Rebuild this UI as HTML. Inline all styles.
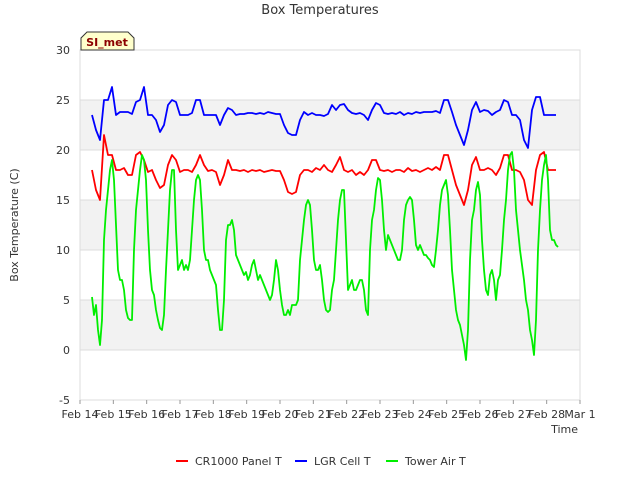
<!DOCTYPE html>
<html><head><meta charset="utf-8"><style>
body{margin:0;background:#fff;font-family:"Liberation Sans","DejaVu Sans",sans-serif}
svg text{font-family:"DejaVu Sans","Liberation Sans",sans-serif}
</style></head><body>
<svg id="chart" width="640" height="480" xmlns="http://www.w3.org/2000/svg"></svg>
<script>
const xTickLabels=["Feb 14","Feb 15","Feb 16","Feb 17","Feb 18","Feb 19","Feb 20","Feb 21","Feb 22","Feb 23","Feb 24","Feb 25","Feb 26","Feb 27","Feb 28","Mar 1"];
const yTicks=[-5,0,5,10,15,20,25,30];
const seriesNames=["CR1000 Panel T","LGR Cell T","Tower Air T"];
const seriesColors=["#ff0000","#0000ff","#00ee00"];
// sample start (days after Feb 14) and spacing for each series
const tStart=0.36, tStepCoarse=0.12, tStepFine=0.06;
const panelT=[18,16,15,21.5,19.5,19.5,18,18,18.2,17.5,17.5,19.5,19.8,19,17.8,18,17,16.2,16.5,18.5,19.5,19,17.8,18,18,17.8,18.5,19.5,18.5,17.9,18,17.8,16.5,17.5,19,18,18,17.9,18,17.8,18,17.9,18,17.8,17.9,18,17.9,17.9,17,15.8,15.6,15.8,17.5,18,18,17.8,18.2,18,18.5,18,17.8,18.5,19.3,18,17.8,18,17.5,17.8,17.5,18,19,19,18,17.9,18,17.8,18,18,17.8,18.2,17.9,18,17.8,18,18.2,18,18.3,18,19.5,19.5,18,16.5,15.5,14.5,16,18.5,19.3,18,18,18.2,18,17.5,18.2,19.5,19.5,18,18,17.8,17,15,14.5,18,19.5,19.8,18,18,18];
const cellT=[23.5,22,21,25,25,26.3,23.5,23.8,23.8,23.8,23.6,24.8,25,26.3,23.5,23.5,23,21.8,22.5,24.5,25,24.8,23.5,23.5,23.5,23.7,25,25,23.5,23.5,23.5,23.5,22.5,23.5,24.2,24,23.5,23.6,23.6,23.7,23.7,23.6,23.7,23.6,23.8,23.7,23.6,23.6,22.5,21.7,21.5,21.5,23,23.8,23.5,23.7,23.5,23.5,23.4,23.6,24.5,24,24.5,24.6,24,23.7,23.6,23.7,23.5,23,24,24.7,24.5,23.7,23.6,23.7,23.6,23.8,23.5,23.7,23.6,23.8,23.7,23.8,23.8,23.8,23.9,23.7,25,25,23.8,22.5,21.5,20.5,22,24,24.8,23.8,24,23.9,23.5,23.8,24,25,24.8,23.5,23.5,23,21,20.2,24,25.3,25.3,23.5,23.5,23.5,23.5];
const airT=[5.3,3.5,4.5,2,0.5,3,11,14,16,18,19,17,12.5,8,7,7,6,4,3.2,3,3,10,14,16,18,19.5,19,17,12,8,6,5.5,4,3,2.2,2,3.5,8,12,16,18,18,12,8,8.5,9,8,8.5,8,9,12,15,17,17.5,17,14,10,9,9,8,7.5,7,6.5,4,2,2,5,11,12.5,12.5,13,12,9.5,9,8.5,8,7.5,7.8,7,7.5,8.5,9,8,7,7.5,7,6.5,6,5.5,5,5.5,7,9,8,6,4.5,3.5,3.5,4,3.5,4.5,4.5,4.5,5,9,11,13,14.5,15,14.5,12,9,8,8,8.5,7,5,4,3.8,4,6,7,10,13,15,16,16,11,6,6.5,7,6,6,6.5,7,7,6,4,3.5,10,13,14,16,17.2,17,15,12,10,11.5,11,10.5,10,9.5,9,9,10,13,14.5,15,15.3,15,13,10.5,10,10.5,10,9.5,9.5,9.2,9,8.5,8.3,10,12,14.5,16,16.5,17,15.5,12,8,6,4,3,2.5,1.5,0.5,-1,2,9,13,14,16,16.8,15.5,11,8,6,5.5,7.5,8,7,5,7,7.5,10,13,15,18,19.5,19.8,18,14,12,10,8.5,7,5,4,2,1,-0.5,3,10,14,17,18.5,19.5,17,12,11,11,10.5,10.3];

const NS="http://www.w3.org/2000/svg";
const svg=document.getElementById('chart');
const L=80,R=580,T=50,B=400;
const xs=d=>L+d*(R-L)/15;
const ys=v=>B-(v+5)*(B-T)/35;
function mk(tag,attrs,parent){const e=document.createElementNS(NS,tag);for(const k in attrs)e.setAttribute(k,attrs[k]);(parent||svg).appendChild(e);return e;}

// background bands
for(let i=0;i<yTicks.length-1;i++){
  const v0=yTicks[i],v1=yTicks[i+1];
  const band=mk('rect',{x:L,y:ys(v1),width:R-L,height:ys(v0)-ys(v1),fill:(i%2===1)?'#f2f2f2':'#ffffff'});
  
  
}
yTicks.forEach(v=>{
  const g=mk('line',{x1:L,x2:R,y1:ys(v),y2:ys(v),stroke:'#dcdcdc','stroke-width':1});
  
  
  const t=mk('text',{x:L-10,y:ys(v)+4,'text-anchor':'end','font-size':11,fill:'#333'});
  t.textContent=v;
  
  
});
const frame=mk('rect',{x:L,y:T,width:R-L,height:B-T,fill:'none',stroke:'#dcdcdc'});


xTickLabels.forEach((s,i)=>{
  const tk=mk('line',{x1:xs(i),x2:xs(i),y1:B,y2:B+4,stroke:'#999'});
  
  
  const t=mk('text',{x:xs(i),y:B+18,'text-anchor':'middle','font-size':11,fill:'#333'});
  t.textContent=s;
  
  
});

function drawLine(vals,step,color,name){
  const pts=vals.map((v,i)=>xs(tStart+i*step).toFixed(1)+','+ys(v).toFixed(1)).join(' ');
  const p=mk('polyline',{points:pts,fill:'none',stroke:color,'stroke-width':1.8,'stroke-linejoin':'round'});
  
  
}
drawLine(panelT,tStepCoarse,seriesColors[0],'cr1000-panel-t-line');
drawLine(cellT,tStepCoarse,seriesColors[1],'lgr-cell-t-line');
drawLine(airT,tStepFine,seriesColors[2],'tower-air-t-line');

const title=mk('text',{x:320,y:14,'text-anchor':'middle','font-size':13,fill:'#333'});
title.textContent='Box Temperatures';


const xt=mk('text',{x:578,y:433,'text-anchor':'end','font-size':11,fill:'#333'});
xt.textContent='Time';


const yt=mk('text',{x:18,y:225,'text-anchor':'middle','font-size':11,fill:'#333',transform:'rotate(-90 18 225)'});
yt.textContent='Box Temperature (C)';



// SI_met tag
const tag=mk('path',{d:'M81,50 L81,38 L87,32 L128,32 L134,38 L134,50 Z',fill:'#ffffcc',stroke:'#333','stroke-width':1});


const tagT=mk('text',{x:107,y:46,'text-anchor':'middle','font-size':11,'font-weight':'bold',fill:'#8b0000'});
tagT.textContent='SI_met';



// legend
const legX=[176,295,386];
seriesNames.forEach((n,i)=>{
  const g=mk('g',{});
  
  
  mk('line',{x1:legX[i],x2:legX[i]+12,y1:461,y2:461,stroke:seriesColors[i],'stroke-width':2},g);
  const t=mk('text',{x:legX[i]+19,y:465,'font-size':11,fill:'#333'},g);
  t.textContent=n;
});
</script>
</body></html>
